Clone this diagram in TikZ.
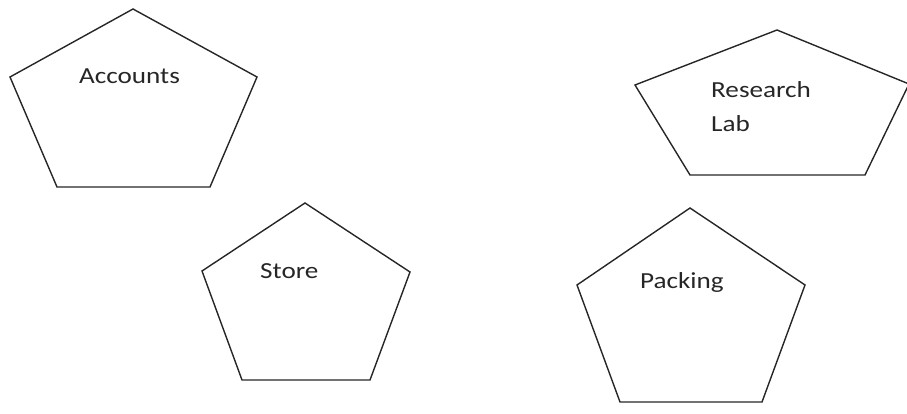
\documentclass[tikz,border=0pt]{standalone}
\usepackage{fontspec}
\setmainfont{Carlito}
\begin{document}
\begin{tikzpicture}[x=1pt,y=-1pt,
  pent/.style={draw=black!85,line width=1.4pt,line join=miter},
  lbl/.style={inner sep=0pt,anchor=base west,text=black!85,font=\fontsize{23}{34}\selectfont}]
\useasboundingbox (0,0) rectangle (907,414);
% Accounts
\draw[pent] (133,9) -- (257,77) -- (210,187) -- (57,187) -- (10,77) -- cycle;
\node[lbl] (acc) at (79,84) {\scalebox{1.18}[1]{Accounts}};
% Research Lab
\draw[pent] (777,30) -- (909,84) -- (865,175) -- (690,175) -- (635,85) -- cycle;
\node[lbl] (res) at (711,98) {\scalebox{1.18}[1]{Research}};
\node[lbl] (lab) at (711,132) {\scalebox{1.18}[1]{Lab}};
% Store
\draw[pent] (305,203) -- (410,272) -- (370,380) -- (242,380) -- (202,271) -- cycle;
\node[lbl] (sto) at (260,278) {\scalebox{1.18}[1]{Store}};
% Packing
\draw[pent] (690,208) -- (805,285) -- (762,402) -- (620,402) -- (577,285) -- cycle;
\node[lbl] (pac) at (640,288) {\scalebox{1.18}[1]{Packing}};
\end{tikzpicture}
\end{document}
